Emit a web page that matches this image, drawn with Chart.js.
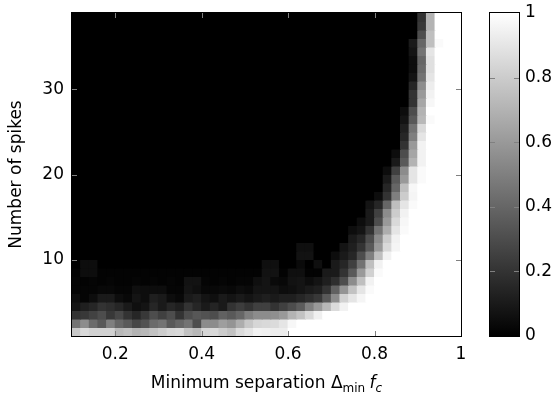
<!DOCTYPE html>
<html>
<head>
<meta charset="utf-8">
<style>
  html, body { margin: 0; padding: 0; background: #fff; }
  #wrap { position: relative; width: 557px; height: 395px; }
  #heatmap { position: absolute; left: 0; top: 0; }
  #colorbar { position: absolute; left: 470px; top: 0; }
</style>
<script src="https://cdn.jsdelivr.net/npm/chart.js@4.4.1/dist/chart.umd.min.js"></script>
</head>
<body>
<div id="wrap">
  <canvas id="heatmap" width="557" height="395"></canvas>
  <canvas id="colorbar" width="87" height="395"></canvas>
</div>
<script>
// column centres (minimum separation * fc)
const separation = [0.11, 0.13, 0.15, 0.17, 0.19, 0.21, 0.23, 0.25, 0.27, 0.29,
  0.31, 0.33, 0.35, 0.37, 0.39, 0.41, 0.43, 0.45, 0.47, 0.49,
  0.51, 0.53, 0.55, 0.57, 0.59, 0.61, 0.63, 0.65, 0.67, 0.69,
  0.71, 0.73, 0.75, 0.77, 0.79, 0.81, 0.83, 0.85, 0.87, 0.89,
  0.91, 0.93, 0.95, 0.97, 0.99];

// lower edge of each row, top row first
const spikes = [38, 37, 36, 35, 34, 33, 32, 31, 30, 29, 28, 27, 26, 25, 24, 23, 22, 21, 20,
  19, 18, 17, 16, 15, 14, 13, 12, 11, 10, 9, 8, 7, 6, 5, 4, 3, 2, 1];

// success rate in percent, one row per entry of spikes
const success = [
  [0,0,0,0,0,0,0,0,0,0, 0,0,0,0,0,0,0,0,0,0, 0,0,0,0,0,0,0,0,0,0, 0,0,0,0,0,0,0,0,0,0, 20,70,100,100,100],
  [0,0,0,0,0,0,0,0,0,0, 0,0,0,0,0,0,0,0,0,0, 0,0,0,0,0,0,0,0,0,0, 0,0,0,0,0,0,0,0,0,0, 22,70,100,100,100],
  [0,0,0,0,0,0,0,0,0,0, 0,0,0,0,0,0,0,0,0,0, 0,0,0,0,0,0,0,0,0,0, 0,0,0,0,0,0,0,0,0,0, 30,75,100,100,100],
  [0,0,0,0,0,0,0,0,0,0, 0,0,0,0,0,0,0,0,0,0, 0,0,0,0,0,0,0,0,0,0, 0,0,0,0,0,0,0,0,0,10, 40,75,98,100,100],
  [0,0,0,0,0,0,0,0,0,0, 0,0,0,0,0,0,0,0,0,0, 0,0,0,0,0,0,0,0,0,0, 0,0,0,0,0,0,0,0,0,8, 45,90,100,100,100],
  [0,0,0,0,0,0,0,0,0,0, 0,0,0,0,0,0,0,0,0,0, 0,0,0,0,0,0,0,0,0,0, 0,0,0,0,0,0,0,0,0,5, 40,88,100,100,100],
  [0,0,0,0,0,0,0,0,0,0, 0,0,0,0,0,0,0,0,0,0, 0,0,0,0,0,0,0,0,0,0, 0,0,0,0,0,0,0,0,0,5, 42,88,100,100,100],
  [0,0,0,0,0,0,0,0,0,0, 0,0,0,0,0,0,0,0,0,0, 0,0,0,0,0,0,0,0,0,0, 0,0,0,0,0,0,0,0,0,8, 45,90,100,100,100],
  [0,0,0,0,0,0,0,0,0,0, 0,0,0,0,0,0,0,0,0,0, 0,0,0,0,0,0,0,0,0,0, 0,0,0,0,0,0,0,0,0,15, 55,93,100,100,100],
  [0,0,0,0,0,0,0,0,0,0, 0,0,0,0,0,0,0,0,0,0, 0,0,0,0,0,0,0,0,0,0, 0,0,0,0,0,0,0,0,0,20, 60,95,100,100,100],
  [0,0,0,0,0,0,0,0,0,0, 0,0,0,0,0,0,0,0,0,0, 0,0,0,0,0,0,0,0,0,0, 0,0,0,0,0,0,0,0,0,20, 65,97,100,100,100],
  [0,0,0,0,0,0,0,0,0,0, 0,0,0,0,0,0,0,0,0,0, 0,0,0,0,0,0,0,0,0,0, 0,0,0,0,0,0,0,0,5,30, 70,100,100,100,100],
  [0,0,0,0,0,0,0,0,0,0, 0,0,0,0,0,0,0,0,0,0, 0,0,0,0,0,0,0,0,0,0, 0,0,0,0,0,0,0,0,8,35, 72,98,100,100,100],
  [0,0,0,0,0,0,0,0,0,0, 0,0,0,0,0,0,0,0,0,0, 0,0,0,0,0,0,0,0,0,0, 0,0,0,0,0,0,0,0,12,45, 85,100,100,100,100],
  [0,0,0,0,0,0,0,0,0,0, 0,0,0,0,0,0,0,0,0,0, 0,0,0,0,0,0,0,0,0,0, 0,0,0,0,0,0,0,0,15,50, 90,100,100,100,100],
  [0,0,0,0,0,0,0,0,0,0, 0,0,0,0,0,0,0,0,0,0, 0,0,0,0,0,0,0,0,0,0, 0,0,0,0,0,0,0,0,20,60, 95,100,100,100,100],
  [0,0,0,0,0,0,0,0,0,0, 0,0,0,0,0,0,0,0,0,0, 0,0,0,0,0,0,0,0,0,0, 0,0,0,0,0,0,0,5,30,65, 95,100,100,100,100],
  [0,0,0,0,0,0,0,0,0,0, 0,0,0,0,0,0,0,0,0,0, 0,0,0,0,0,0,0,0,0,0, 0,0,0,0,0,0,0,10,35,70, 95,100,100,100,100],
  [0,0,0,0,0,0,0,0,0,0, 0,0,0,0,0,0,0,0,0,0, 0,0,0,0,0,0,0,0,0,0, 0,0,0,0,0,0,5,25,55,90, 98,100,100,100,100],
  [0,0,0,0,0,0,0,0,0,0, 0,0,0,0,0,0,0,0,0,0, 0,0,0,0,0,0,0,0,0,0, 0,0,0,0,0,0,10,35,60,90, 98,100,100,100,100],
  [0,0,0,0,0,0,0,0,0,0, 0,0,0,0,0,0,0,0,0,0, 0,0,0,0,0,0,0,0,0,0, 0,0,0,0,0,0,15,40,75,97, 100,100,100,100,100],
  [0,0,0,0,0,0,0,0,0,0, 0,0,0,0,0,0,0,0,0,0, 0,0,0,0,0,0,0,0,0,0, 0,0,0,0,0,5,20,50,80,96, 100,100,100,100,100],
  [0,0,0,0,0,0,0,0,0,0, 0,0,0,0,0,0,0,0,0,0, 0,0,0,0,0,0,0,0,0,0, 0,0,0,0,8,15,40,75,90,98, 100,100,100,100,100],
  [0,0,0,0,0,0,0,0,0,0, 0,0,0,0,0,0,0,0,0,0, 0,0,0,0,0,0,0,0,0,0, 0,0,0,0,10,25,55,80,95,100, 100,100,100,100,100],
  [0,0,0,0,0,0,0,0,0,0, 0,0,0,0,0,0,0,0,0,0, 0,0,0,0,0,0,0,0,0,0, 0,0,0,5,10,30,60,85,97,100, 100,100,100,100,100],
  [0,0,0,0,0,0,0,0,0,0, 0,0,0,0,0,0,0,0,0,0, 0,0,0,0,0,0,0,0,0,0, 0,0,5,8,20,45,68,90,98,100, 100,100,100,100,100],
  [0,0,0,0,0,0,0,0,0,0, 0,0,0,0,0,0,0,0,0,0, 0,0,0,0,0,0,0,0,0,0, 0,0,10,15,30,55,80,95,100,100, 100,100,100,100,100],
  [0,0,0,0,0,0,0,0,0,0, 0,0,0,0,0,0,0,0,0,0, 0,0,0,0,0,0,6,6,0,0, 0,8,12,20,35,60,85,96,100,100, 100,100,100,100,100],
  [0,0,0,0,0,0,0,0,0,0, 0,0,0,0,0,0,0,0,0,0, 0,0,0,0,0,0,7,7,0,0, 5,10,15,30,50,75,95,100,100,100, 100,100,100,100,100],
  [0,5,5,0,0,0,0,0,0,0, 0,0,0,0,0,0,0,0,0,0, 0,0,6,6,0,0,4,0,6,0, 10,15,25,45,75,95,100,100,100,100, 100,100,100,100,100],
  [1,5,5,1,1,1,1,1,1,1, 1,1,1,1,1,1,1,1,1,1, 1,1,7,7,1,6,6,1,1,10, 10,20,35,60,82,98,100,100,100,100, 100,100,100,100,100],
  [2,1,2,1,2,1,1,2,1,2, 1,2,1,7,7,2,1,2,1,2, 2,6,8,4,3,7,8,5,8,12, 18,30,55,75,95,100,100,100,100,100, 100,100,100,100,100],
  [2,2,2,3,3,2,2,6,5,5, 5,2,2,8,6,3,3,4,3,5, 4,8,8,8,5,6,8,10,12,20, 38,58,76,90,98,100,100,100,100,100, 100,100,100,100,100],
  [5,2,5,10,10,5,3,8,5,12, 10,5,3,10,12,8,6,10,8,10, 8,10,12,10,12,12,15,18,22,35, 55,82,90,96,100,100,100,100,100,100, 100,100,100,100,100],
  [8,12,15,20,18,15,10,6,8,15, 10,15,12,20,15,10,14,10,20,24, 20,25,25,20,25,30,36,50,60,72, 86,95,100,100,100,100,100,100,100,100, 100,100,100,100,100],
  [20,22,26,30,22,28,20,15,22,30, 25,30,20,30,34,32,30,38,35,40, 50,55,55,56,60,70,76,85,94,100, 100,100,100,100,100,100,100,100,100,100, 100,100,100,100,100],
  [45,55,42,35,50,40,35,28,32,42, 45,35,40,45,30,55,55,62,58,68, 78,84,85,86,90,97,100,100,100,100, 100,100,100,100,100,100,100,100,100,100, 100,100,100,100,100],
  [78,85,82,82,82,72,75,70,72,76, 80,84,85,76,72,84,85,80,76,86, 90,95,94,93,93,100,100,100,100,100, 100,100,100,100,100,100,100,100,100,100, 100,100,100,100,100]
];

const xTicks = [0.2, 0.4, 0.6, 0.8, 1];
const yTicks = [10, 20, 30];
const barTicks = [0, 0.2, 0.4, 0.6, 0.8, 1];
const barMarks = [0.2, 0.4, 0.6, 0.8];

Chart.defaults.font.family = '"DejaVu Sans", sans-serif';
Chart.defaults.font.size = 17;
Chart.defaults.color = '#000';

function gray(pct) {
  const g = Math.round(pct * 2.55);
  return `rgb(${g},${g},${g})`;
}

const datasets = spikes.map((s, i) => ({
  data: separation.map(x => ({ x, y: [s, s + 1] })),
  backgroundColor: success[i].map(gray),
  borderWidth: 0,
  grouped: false,
  barPercentage: 1,
  categoryPercentage: 1,
  inflateAmount: 0.5
}));

// inward tick marks and the black frame
const frame = {
  id: 'frame',
  afterDatasetsDraw(chart) {
    const { ctx, chartArea: a, scales } = chart;
    ctx.save();
    ctx.strokeStyle = '#808080';
    ctx.lineWidth = 1;
    ctx.beginPath();
    xTicks.forEach(v => {
      const px = Math.round(scales.x.getPixelForValue(v)) + 0.5;
      ctx.moveTo(px, a.bottom);
      ctx.lineTo(px, a.bottom - 5);
      ctx.moveTo(px, a.top);
      ctx.lineTo(px, a.top + 5);
    });
    yTicks.forEach(v => {
      const py = Math.round(scales.y.getPixelForValue(v)) + 0.5;
      ctx.moveTo(a.left, py);
      ctx.lineTo(a.left + 5, py);
      ctx.moveTo(a.right, py);
      ctx.lineTo(a.right - 5, py);
    });
    ctx.stroke();
    ctx.strokeStyle = '#000';
    ctx.strokeRect(a.left - 0.5, a.top - 0.5, a.width + 1, a.height + 1);
    ctx.restore();
  }
};

// x axis label with subscripts
const xTitle = {
  id: 'xTitle',
  afterDraw(chart) {
    const { ctx, chartArea: a } = chart;
    const fam = '"DejaVu Sans", sans-serif';
    const parts = [
      { text: 'Minimum separation Δ', font: `17px ${fam}`, dy: 0 },
      { text: 'min', font: `12px ${fam}`, dy: 4 },
      { text: ' ', font: `14px ${fam}`, dy: 0 },
      { text: 'f', font: `italic 17px ${fam}`, dy: 0 },
      { text: 'c', font: `italic 12px ${fam}`, dy: 4 }
    ];
    ctx.save();
    ctx.fillStyle = '#000';
    ctx.textBaseline = 'alphabetic';
    let total = 0;
    parts.forEach(p => {
      ctx.font = p.font;
      p.w = ctx.measureText(p.text).width;
      total += p.w;
    });
    let x = (a.left + a.right) / 2 - total / 2;
    const base = 388;
    parts.forEach(p => {
      ctx.font = p.font;
      ctx.fillText(p.text, x, base + p.dy);
      x += p.w;
    });
    ctx.restore();
  }
};

new Chart(document.getElementById('heatmap'), {
  type: 'bar',
  data: { datasets },
  options: {
    responsive: false,
    animation: false,
    events: [],
    layout: { padding: { top: 13, right: 96, left: 0, bottom: 0 } },
    plugins: { legend: { display: false }, tooltip: { enabled: false } },
    scales: {
      x: {
        type: 'linear',
        min: 0.1,
        max: 1,
        offset: false,
        grid: { display: false, drawTicks: false },
        border: { display: false },
        afterBuildTicks: scale => { scale.ticks = xTicks.map(value => ({ value })); },
        afterFit: scale => { scale.height = 59; },
        ticks: { padding: 8, autoSkip: false, maxRotation: 0, callback: v => String(v) }
      },
      y: {
        type: 'linear',
        min: 1,
        max: 39,
        // tick length only offsets the labels, the marks are drawn by the frame plugin
        grid: { display: false, drawTicks: true, tickLength: 8 },
        border: { display: false },
        afterBuildTicks: scale => { scale.ticks = yTicks.map(value => ({ value })); },
        afterFit: scale => { scale.width = 72; },
        ticks: { padding: 0, callback: v => String(v) },
        title: { display: true, text: 'Number of spikes', padding: { top: 6, bottom: 0 } }
      }
    }
  },
  plugins: [frame, xTitle]
});

function grayGradient(chart) {
  const { ctx, chartArea, scales } = chart;
  if (!chartArea) return '#808080';
  const g = ctx.createLinearGradient(0, scales.y.getPixelForValue(0), 0, scales.y.getPixelForValue(1));
  g.addColorStop(0, '#000');
  g.addColorStop(1, '#fff');
  return g;
}

const barFrame = {
  id: 'barFrame',
  afterDatasetsDraw(chart) {
    const { ctx, chartArea: a, scales } = chart;
    ctx.save();
    ctx.strokeStyle = '#808080';
    ctx.lineWidth = 1;
    ctx.beginPath();
    barMarks.forEach(v => {
      const py = Math.round(scales.y.getPixelForValue(v)) + 0.5;
      ctx.moveTo(a.left, py);
      ctx.lineTo(a.left + 5, py);
      ctx.moveTo(a.right, py);
      ctx.lineTo(a.right - 5, py);
    });
    ctx.stroke();
    ctx.strokeStyle = '#000';
    ctx.strokeRect(a.left - 0.5, a.top - 0.5, a.width + 1, a.height + 1);
    ctx.restore();
  }
};

new Chart(document.getElementById('colorbar'), {
  type: 'bar',
  data: {
    labels: [''],
    datasets: [{
      data: [[0, 1]],
      backgroundColor: c => grayGradient(c.chart),
      borderWidth: 0,
      barPercentage: 1,
      categoryPercentage: 1
    }]
  },
  options: {
    responsive: false,
    animation: false,
    events: [],
    layout: { padding: { left: 20, top: 13, bottom: 59, right: 0 } },
    plugins: { legend: { display: false }, tooltip: { enabled: false } },
    scales: {
      x: { display: false },
      y: {
        position: 'right',
        min: 0,
        max: 1,
        grid: { display: false, drawTicks: true, tickLength: 6 },
        border: { display: false },
        afterBuildTicks: scale => { scale.ticks = barTicks.map(value => ({ value })); },
        afterFit: scale => { scale.width = 38; },
        ticks: { padding: 0, callback: v => String(v) }
      }
    }
  },
  plugins: [barFrame]
});
</script>
</body>
</html>
